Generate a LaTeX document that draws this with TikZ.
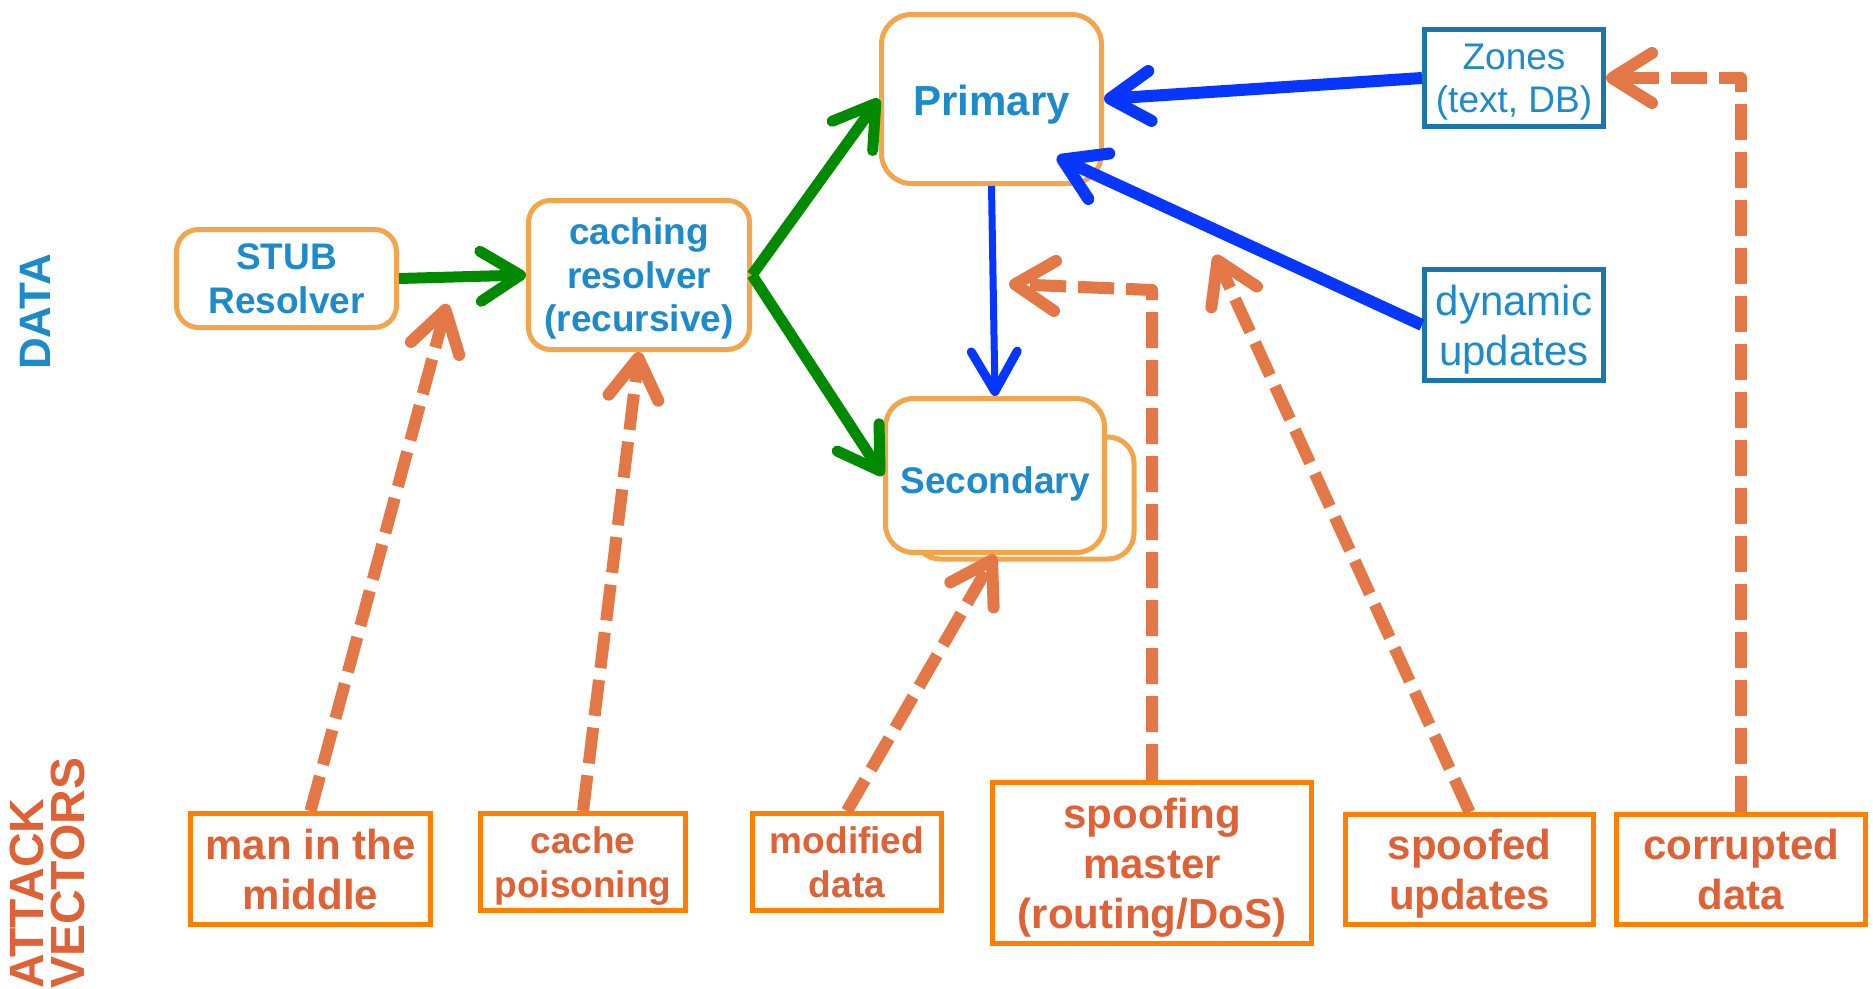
\documentclass[tikz,border=0pt]{standalone}
\usepackage{fontspec}
\setmainfont{Liberation Sans}
\usetikzlibrary{arrows.meta,calc}
\definecolor{bluetext}{HTML}{1C8ACB}
\definecolor{boxorange}{HTML}{F2A54A}
\definecolor{zoneborder}{HTML}{1B77A9}
\definecolor{flowgreen}{HTML}{008A00}
\definecolor{flowblue}{HTML}{0636FF}
\definecolor{attacktext}{HTML}{DF6236}
\definecolor{attackborder}{HTML}{FF7F00}
\definecolor{dashorange}{HTML}{E37746}
\begin{document}
\begin{tikzpicture}[x=1pt,y=-1pt,
  rbox/.style={draw=boxorange, line width=5pt, rounded corners=22pt, fill=white,
    inner sep=0pt, align=center, text=bluetext, text depth=0pt},
  zbox/.style={draw=zoneborder, line width=5pt, fill=white, inner sep=0pt,
    align=center, text=bluetext, text depth=0pt},
  abox/.style={draw=attackborder, line width=5pt, fill=white, inner sep=0pt,
    align=center, text=attacktext, text depth=0pt},
  fA/.style={font=\fontsize{37}{43.5}\selectfont\bfseries},
  fB/.style={font=\fontsize{42}{50}\selectfont\bfseries},
  greenflow/.style={draw=flowgreen, line width=11pt,
    -{Straight Barb[length=40pt,width=50pt,round]}},
  blueflow/.style={draw=flowblue, line width=12pt,
    -{Straight Barb[length=40pt,width=50pt,round]}},
  attackflow/.style={draw=dashorange, line width=12pt, dash pattern=on 36pt off 12pt,
    line join=round, -{Straight Barb[length=40pt,width=50pt,round]}}
]
\useasboundingbox (0,0) rectangle (1873,988);
\fill[white] (0,0) rectangle (1873,988);

% side labels
\node[rotate=90, inner sep=0pt, text=bluetext, font=\fontsize{44}{50}\selectfont\bfseries]
  (datalbl) at (35,312) {DATA};
\node[rotate=90, anchor=north west, inner sep=0pt, align=left, text=attacktext,
  font=\fontsize{48}{41}\selectfont\bfseries] (atklbl) at (10,989) {ATTACK\\VECTORS};

% data nodes
\node[rbox, fA, minimum width=220pt, minimum height=98pt] (stub) at (286.5,278.5) {STUB\\Resolver};
\node[rbox, fA, minimum width=221pt, minimum height=149pt] (cache) at (639,275) {caching\\resolver\\(recursive)};
\node[rbox, font=\fontsize{42}{50}\selectfont\bfseries, rounded corners=30pt,
  text height=33pt, minimum width=220pt, minimum height=169pt] (primary) at (991.5,99) {Primary};
\draw[draw=boxorange, line width=5pt, rounded corners=26pt, fill=white]
  (914,437) rectangle (1134,559);
\node[rbox, fA, rounded corners=28pt, text height=35pt, minimum width=219pt, minimum height=154pt]
  (secondary) at (995,475.5) {Secondary};
\node[zbox, font=\fontsize{37}{43}\selectfont, minimum width=179pt, minimum height=97pt]
  (zones) at (1514,78) {Zones\\(text, DB)};
\node[zbox, font=\fontsize{42}{50}\selectfont, minimum width=179pt, minimum height=111pt]
  (dyn) at (1514,325) {dynamic\\updates};

% attack nodes
\node[abox, fB, minimum width=240pt, minimum height=111pt] (mitm) at (310.5,869) {man in the\\middle};
\node[abox, fA, minimum width=205pt, minimum height=97pt] (cpois) at (583,862) {cache\\poisoning};
\node[abox, fA, minimum width=189pt, minimum height=97pt] (moddata) at (847,862) {modified\\data};
\node[abox, fB, minimum width=319pt, minimum height=161pt] (spoofm) at (1152,863) {spoofing\\master\\(routing/DoS)};
\node[abox, fB, minimum width=248pt, minimum height=110pt] (spoofu) at (1469.5,869.5) {spoofed\\updates};
\node[abox, fB, minimum width=249pt, minimum height=110pt] (corrupt) at (1741,869.5) {corrupted\\data};

% helper coordinates
\coordinate (mitmtip) at (447,304);
\coordinate (smcorner) at (1152,290);
\coordinate (smtip) at (1009,284);
\coordinate (sutip) at (1215,255);
\coordinate (cdcorner) at (1741,78);
\coordinate (dyntip) at ($(primary.south east)+(-47,-29)$);

% green flows
\draw[greenflow] (stub.east) -- (cache.west);
\draw[greenflow] (cache.east) -- (primary.west);
\draw[greenflow] (cache.east) -- (secondary.west);

% blue flows
\draw[blueflow] (zones.west) -- (primary.east);
\draw[blueflow] (dyn.west) -- (dyntip);
\draw[draw=flowblue, line width=7pt, -{Straight Barb[length=40pt,width=46pt,round,line width=9pt]}]
  (primary.south) -- (secondary.north);

% attack flows
\draw[attackflow] (mitm.north) -- (mitmtip);
\draw[attackflow] (cpois.north) -- (cache.south);
\draw[attackflow] (moddata.north) -- (secondary.south);
\draw[attackflow] (spoofm.north) -- (smcorner) -- (smtip);
\draw[attackflow] (spoofu.north) -- (sutip);
\draw[attackflow] (corrupt.north) -- (cdcorner) -- (zones.east);
\end{tikzpicture}
\end{document}
